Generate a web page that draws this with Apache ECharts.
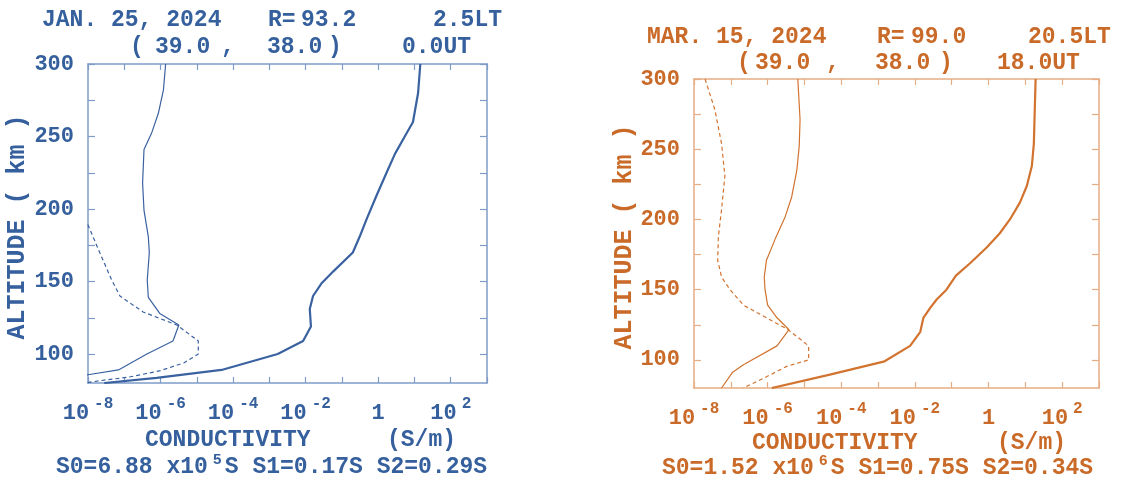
<!DOCTYPE html>
<html>
<head>
<meta charset="utf-8">
<title>Conductivity profiles</title>
<script src="https://cdn.jsdelivr.net/npm/echarts@6/dist/echarts.min.js"></script>
<style>
    html, body { margin: 0; padding: 0; background: #fff; }
    #main { width: 1138px; height: 481px; }
</style>
</head>
<body>
<div id="main"></div>
<script>
// altitude (km) and conductivity (S/m)
let janAlt1 = [300, 282, 266, 252, 241, 218, 199, 181, 170, 151, 139, 128, 120, 109, 100, 89, 85.7, 80];
let janThin = [1.38e-6, 1.2e-6, 8.7e-7, 5.6e-7, 3.5e-7, 3.2e-7, 3.5e-7, 4.6e-7, 4.9e-7, 4.3e-7, 4.6e-7, 9.5e-7, 3.2e-6, 2.2e-6, 4.2e-7, 6.9e-8, 1.0e-8, 1.3e-9];
let janAlt2 = [200, 189, 170, 151, 140, 129, 120, 109, 100, 94, 88.5, 84, 82, 80];
let janDash = [4e-9, 1.0e-8, 2.1e-8, 4.5e-8, 7.6e-8, 3.3e-7, 2.8e-6, 1.1e-5, 1.1e-5, 4.5e-6, 1.0e-6, 1.3e-7, 2.8e-8, 8e-9];
let janAlt3 = [300, 280, 260, 250, 238, 225, 209, 193, 181, 170, 157, 149, 140, 131, 119, 109, 100, 89, 83.5, 80];
let janThick = [14.5, 12.6, 9.1, 5.4, 2.9, 1.7, 0.89, 0.48, 0.31, 0.2, 0.058, 0.028, 0.016, 0.013, 0.014, 0.0085, 0.0017, 4.8e-5, 7.8e-7, 2.8e-8];

let marAlt1 = [300, 271, 252, 235, 216, 202, 186, 171, 159, 150, 139, 130, 121.5, 110, 96.6, 91, 80];
let marThin = [6.6e-6, 7.6e-6, 7.2e-6, 6.2e-6, 4.5e-6, 3.0e-6, 1.6e-6, 9.3e-7, 8.1e-7, 8.5e-7, 1.0e-6, 1.8e-6, 3.8e-6, 1.8e-6, 2.2e-7, 1.1e-7, 5.6e-8];
let marAlt2 = [300, 278, 254, 231, 207, 188, 171, 159, 150, 139, 130, 121.5, 110, 100, 95.4, 88, 80];
let marDash = [2.0e-8, 3.7e-8, 5.6e-8, 6.9e-8, 5.6e-8, 4.6e-8, 4.4e-8, 5.6e-8, 9.5e-8, 2.2e-7, 9.3e-7, 3.6e-6, 1.3e-5, 1.3e-5, 3.3e-6, 9.3e-7, 2.2e-7];
let marAlt3 = [300, 278, 254, 238, 224, 212, 200, 190, 180, 169, 160, 150, 143, 137, 130, 120, 110, 99, 89.5, 80];
let marThick = [19, 18, 17, 15, 11, 7.1, 3.8, 2.0, 0.89, 0.32, 0.13, 0.072, 0.039, 0.026, 0.017, 0.014, 0.0074, 0.0015, 4.9e-5, 1.3e-6];

// ticks
let decadeTicks = [1e-8, 1e-7, 1e-6, 1e-5, 1e-4, 1e-3, 1e-2, 1e-1, 1, 10, 100, 1000];
let decadeLabels = [1e-8, 1e-6, 1e-4, 1e-2, 1, 100];
let altTicks = [100, 125, 150, 175, 200, 225, 250, 275, 300];
let altLabels = [100, 150, 200, 250, 300];

let FONT = 'Liberation Mono';
let blue = {text: '#35609d', line: '#3a62a0', box: '#7f9cc9'};
let orange = {text: '#c96a28', line: '#d2732f', box: '#e6ad84'};

function pairs(xs, ys) {
    return xs.map(function (v, i) { return [v, ys[i]]; });
}

function xLabel(value) {
    let e = Math.round(Math.log10(value));
    if (e === 0) return '{b|1}';
    return '{b|10}{s|' + e + '}';
}

function xAxes(gi, c) {
    let base = {
        type: 'log', logBase: 10, gridIndex: gi, min: 1e-8, max: 1e3,
        axisLine: {lineStyle: {color: c.box, width: 1.5}},
        splitLine: {show: false}
    };
    return [
        Object.assign({}, base, {
            position: 'bottom',
            axisTick: {inside: true, length: 6, customValues: decadeTicks, lineStyle: {color: c.box, width: 1.2}},
            axisLabel: {
                customValues: decadeLabels, margin: 13, color: c.text,
                formatter: xLabel,
                rich: {
                    b: {fontFamily: FONT, fontWeight: 'bold', fontSize: 22, color: c.text, lineHeight: 28, verticalAlign: 'bottom'},
                    s: {fontFamily: FONT, fontWeight: 'bold', fontSize: 16, color: c.text, lineHeight: 28, verticalAlign: 'top', padding: [0, 0, 0, 5]}
                }
            }
        }),
        Object.assign({}, base, {
            position: 'top',
            axisTick: {inside: true, length: 6, customValues: decadeTicks, lineStyle: {color: c.box, width: 1.2}},
            axisLabel: {show: false}
        })
    ];
}

function yAxes(gi, c) {
    let base = {
        type: 'value', gridIndex: gi, min: 80, max: 300,
        axisLine: {show: true, lineStyle: {color: c.box, width: 1.5}},
        splitLine: {show: false},
        axisTick: {inside: true, length: 7, customValues: altTicks, lineStyle: {color: c.box, width: 1.2}}
    };
    return [
        Object.assign({}, base, {
            position: 'left',
            axisLabel: {customValues: altLabels, margin: 14, color: c.text, fontFamily: FONT, fontWeight: 'bold', fontSize: 22}
        }),
        Object.assign({}, base, {position: 'right', axisLabel: {show: false}})
    ];
}

function lines(xi, yi, c, thin, dash, thick) {
    return [
        {type: 'line', xAxisIndex: xi, yAxisIndex: yi, data: thin, symbol: 'none', clip: true,
            lineStyle: {color: c.line, width: 1.2}},
        {type: 'line', xAxisIndex: xi, yAxisIndex: yi, data: dash, symbol: 'none', clip: true,
            lineStyle: {color: c.line, width: 1.2, type: [4, 3]}},
        {type: 'line', xAxisIndex: xi, yAxisIndex: yi, data: thick, symbol: 'none', clip: true,
            lineStyle: {color: c.line, width: 2.2}}
    ];
}

function txt(x, y, s, c, size) {
    return {
        type: 'text', x: x, y: y,
        style: {text: s, fill: c, font: 'bold ' + (size || 23) + 'px "' + FONT + '"', verticalAlign: 'middle'}
    };
}

function sideName(x, y, c) {
    return {
        type: 'text', x: x, y: y, rotation: Math.PI / 2,
        style: {text: 'ALTITUDE ( km )', fill: c, font: 'bold 25px "' + FONT + '"', align: 'center', verticalAlign: 'middle'}
    };
}

function richTxt(x, y, s, c) {
    return {
        type: 'text', x: x, y: y,
        style: {
            text: s, verticalAlign: 'middle',
            rich: {
                a: {fontFamily: FONT, fontWeight: 'bold', fontSize: 23, fill: c, lineHeight: 26, verticalAlign: 'bottom'},
                s: {fontFamily: FONT, fontWeight: 'bold', fontSize: 15, fill: c, lineHeight: 26, verticalAlign: 'top', padding: [0, 3, 0, 5]}
            }
        }
    };
}

let chart = echarts.init(document.getElementById('main'));

let option = {
    animation: false,
    backgroundColor: '#fff',
    grid: [
        {left: 88, top: 64, width: 399, height: 319},
        {left: 694, top: 79, width: 405, height: 309}
    ],
    xAxis: xAxes(0, blue).concat(xAxes(1, orange)),
    yAxis: yAxes(0, blue).concat(yAxes(1, orange)),
    series: lines(0, 0, blue, pairs(janThin, janAlt1), pairs(janDash, janAlt2), pairs(janThick, janAlt3))
        .concat(lines(2, 2, orange, pairs(marThin, marAlt1), pairs(marDash, marAlt2), pairs(marThick, marAlt3))),
    graphic: [
        // left panel
        txt(42, 20, 'JAN. 25, 2024', blue.text),
        txt(268, 20, 'R=', blue.text),
        txt(301, 20, '93.2', blue.text),
        txt(433, 20, '2.5LT', blue.text),
        txt(130, 47, '(', blue.text),
        txt(155, 47, '39.0', blue.text),
        txt(221, 47, ',', blue.text),
        txt(267, 47, '38.0', blue.text),
        txt(328, 47, ')', blue.text),
        txt(402, 47, '0.0UT', blue.text),
        sideName(18, 227, blue.text),
        txt(145, 440, 'CONDUCTIVITY', blue.text),
        txt(387, 440, '(S/m)', blue.text),
        richTxt(56, 466, '{a|S0=6.88 x10}{s|5}{a|S S1=0.17S S2=0.29S}', blue.text),
        // right panel
        txt(647, 37, 'MAR. 15, 2024', orange.text),
        txt(877, 37, 'R=', orange.text),
        txt(911, 37, '99.0', orange.text),
        txt(1028, 37, '20.5LT', orange.text),
        txt(737, 63, '(', orange.text),
        txt(755, 63, '39.0', orange.text),
        txt(826, 63, ',', orange.text),
        txt(875, 63, '38.0', orange.text),
        txt(939, 63, ')', orange.text),
        txt(997, 63, '18.0UT', orange.text),
        sideName(625, 237, orange.text),
        txt(752, 443, 'CONDUCTIVITY', orange.text),
        txt(997, 443, '(S/m)', orange.text),
        richTxt(662, 467, '{a|S0=1.52 x10}{s|6}{a|S S1=0.75S S2=0.34S}', orange.text)
    ]
};

chart.setOption(option);
</script>
</body>
</html>
